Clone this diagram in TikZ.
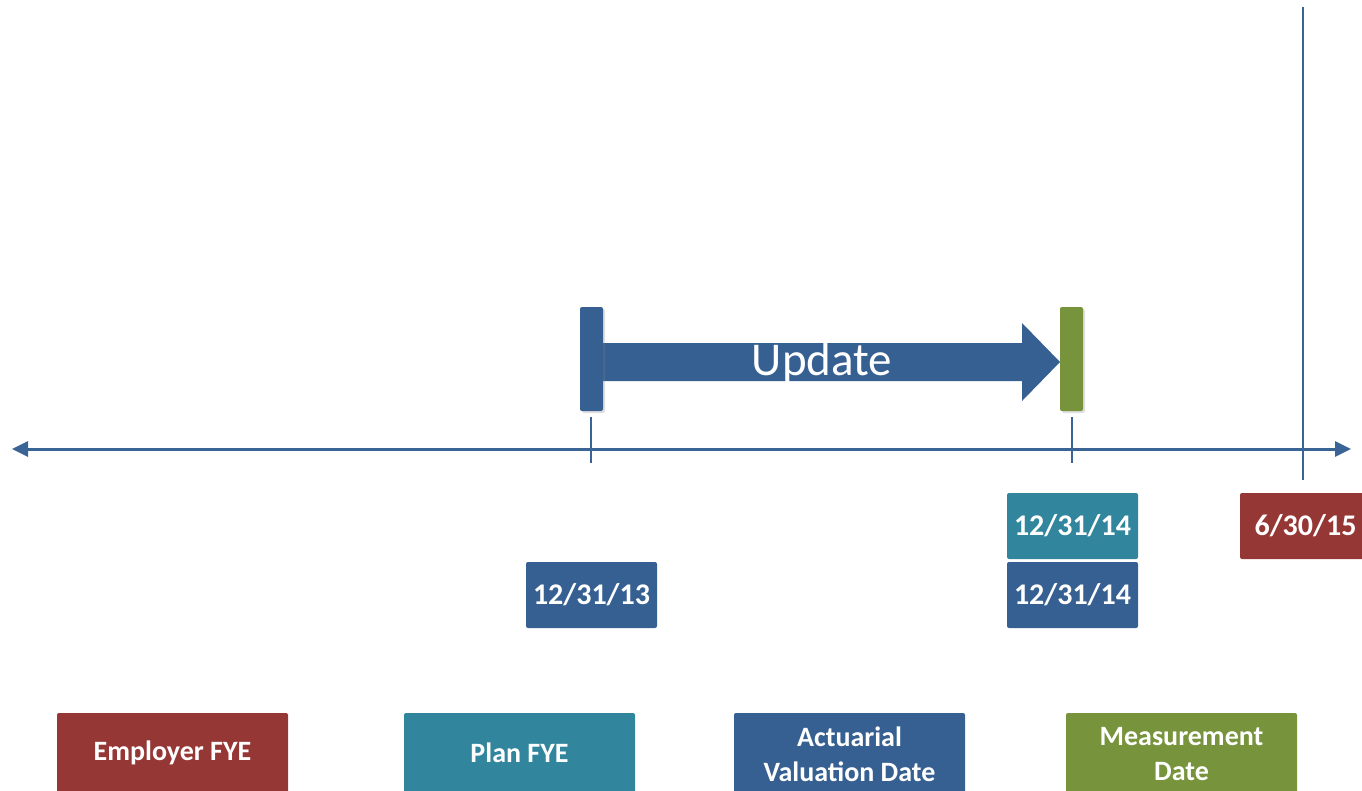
\documentclass[tikz,border=0pt]{standalone}
\usepackage{fontspec}
\setmainfont{Carlito}
\usetikzlibrary{arrows.meta,shadows}
\definecolor{cblue}{HTML}{376092}
\definecolor{cline}{HTML}{3A6496}
\definecolor{cteal}{HTML}{31859C}
\definecolor{cred}{HTML}{953735}
\definecolor{cgreen}{HTML}{77933C}
\tikzset{
  tl/.style={draw=cline, line width=3pt},
  tick/.style={draw=cline, line width=2pt},
  datebox/.style={rectangle, rounded corners=2pt, minimum width=131pt, minimum height=66pt, inner sep=0pt, text=white, font=\fontsize{30}{36}\selectfont\bfseries},
  legbox/.style={rectangle, rounded corners=2pt, minimum width=231pt, minimum height=90pt, inner sep=0pt},
  legtext/.style={text=white, align=center, inner sep=0pt, font=\fontsize{28}{35}\selectfont\bfseries},
  bar/.style={rectangle, rounded corners=2pt, minimum width=23pt, minimum height=104pt, inner sep=0pt, drop shadow={shadow xshift=2pt, shadow yshift=-2pt, opacity=0.25}},
}
\begin{document}
\begin{tikzpicture}[x=1pt,y=-1pt]
\useasboundingbox (0,0) rectangle (1362,790);
\clip (0,0) rectangle (1362,790);
% timeline
\coordinate (tlL) at (12,449);
\coordinate (tlR) at (1351,449);
\draw[tl, {Triangle[length=16pt,width=15pt]}-{Triangle[length=16pt,width=15pt]}] (tlL) -- (tlR);
% vertical line
\coordinate (vT) at (1303,7);
\coordinate (vB) at (1303,480);
\draw[draw=cline, line width=2.5pt] (vT) -- (vB);
% ticks
\coordinate (t1a) at (591,417); \coordinate (t1b) at (591,463);
\coordinate (t2a) at (1072,417); \coordinate (t2b) at (1072,463);
\draw[tick] (t1a) -- (t1b);
\draw[tick] (t2a) -- (t2b);
% update arrow
\fill[cblue] (603,343) -- (1022,343) -- (1022,323) -- (1060,362) -- (1022,401) -- (1022,381) -- (603,381) -- cycle;
\node[text=white, font=\fontsize{47}{50}\selectfont, inner sep=0pt] (upd) at (822,363) {Update};
% bars
\node[bar, fill=cblue] (barL) at (591.5,359) {};
\node[bar, fill=cgreen] (barR) at (1071.5,359) {};
% date boxes
\node[datebox, fill=cblue] (d13) at (591.5,595) {12/31/13};
\node[datebox, fill=cteal] (d14a) at (1072.5,526) {12/31/14};
\node[datebox, fill=cblue] (d14b) at (1072.5,595) {12/31/14};
\node[datebox, fill=cred] (d15) at (1305.5,526) {6/30/15};
% legend
\node[legbox, fill=cred] (lemp) at (172.5,758) {};
\node[legtext] (temp) at (172.5,753) {Employer FYE};
\node[legbox, fill=cteal] (lplan) at (519.5,758) {};
\node[legtext] (tplan) at (519.5,753) {Plan FYE};
\node[legbox, fill=cblue] (lact) at (849.5,758) {};
\node[legtext] (tact) at (849.5,754) {Actuarial\\Valuation Date};
\node[legbox, fill=cgreen] (lmeas) at (1181.5,758) {};
\node[legtext] (tmeas) at (1181.5,754) {Measurement\\Date};
\end{tikzpicture}
\end{document}
